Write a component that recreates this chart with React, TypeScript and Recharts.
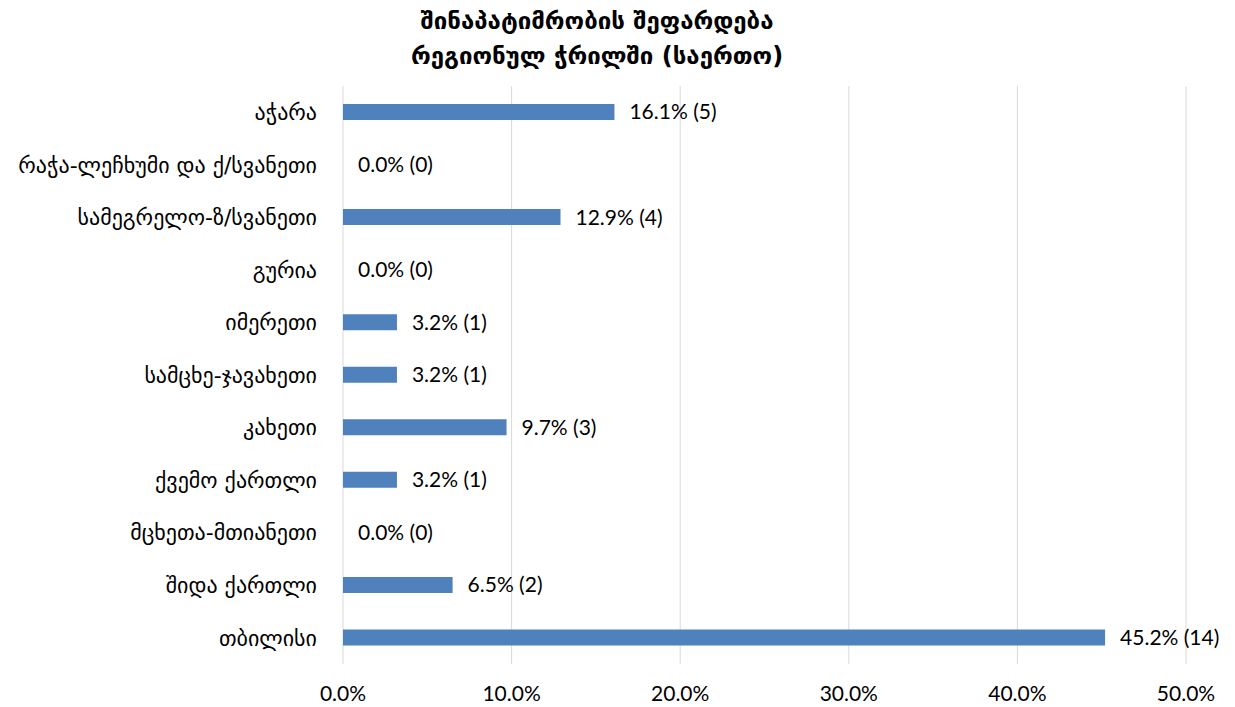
import React from "react";
import { BarChart, Bar, XAxis, YAxis, CartesianGrid, LabelList } from "recharts";

const regions = [
  "აჭარა",
  "რაჭა-ლეჩხუმი და ქ/სვანეთი",
  "სამეგრელო-ზ/სვანეთი",
  "გურია",
  "იმერეთი",
  "სამცხე-ჯავახეთი",
  "კახეთი",
  "ქვემო ქართლი",
  "მცხეთა-მთიანეთი",
  "შიდა ქართლი",
  "თბილისი",
];
const shares = [16.1, 0, 12.9, 0, 3.2, 3.2, 9.7, 3.2, 0, 6.5, 45.2];
const counts = [5, 0, 4, 0, 1, 1, 3, 1, 0, 2, 14];
const xTicks = [0, 10, 20, 30, 40, 50];

const titleLines = ["შინაპატიმრობის შეფარდება", "რეგიონულ ჭრილში (საერთო)"];

const data = regions.map((name, i) => ({
  name,
  pct: shares[i],
  label: `${shares[i].toFixed(1)}% (${counts[i]})`,
}));

const W = 1235;
const H = 707;

export default function App() {
  return (
    <div style={{ position: "absolute", left: 0, top: 0, width: W, height: H, background: "#fff" }}>
      <div
        style={{
          position: "absolute",
          left: 0,
          top: 4,
          width: 1194,
          textAlign: "center",
          fontFamily: "'DejaVu Sans', sans-serif",
          fontWeight: "bold",
          fontSize: 24,
          lineHeight: "35px",
          color: "#000",
        }}
      >
        {titleLines.map((t) => (
          <div key={t}>{t}</div>
        ))}
      </div>
      <BarChart
        width={W}
        height={H}
        data={data}
        layout="vertical"
        margin={{ top: 86, right: 49, left: 0, bottom: 0 }}
        barCategoryGap={0}
      >
        <CartesianGrid horizontal={false} stroke="#d9d9d9" />
        <XAxis
          type="number"
          domain={[0, 50]}
          ticks={xTicks}
          tickFormatter={(v: number) => `${v.toFixed(1)}%`}
          axisLine={false}
          tickLine={false}
          height={43}
          tickMargin={16}
          tick={{ fill: "#000", fontSize: 21, fontFamily: "Lato, sans-serif" }}
          interval={0}
        />
        <YAxis
          type="category"
          dataKey="name"
          width={343}
          axisLine={false}
          tickLine={false}
          tickMargin={20}
          interval={0}
          tick={{ fill: "#000", fontSize: 22, fontFamily: "'DejaVu Sans', sans-serif" }}
        />
        <Bar dataKey="pct" fill="#4f81bd" barSize={16} minPointSize={0.01} isAnimationActive={false}>
          <LabelList
            dataKey="label"
            position="right"
            offset={15}
            fill="#000"
            fontSize={21}
            fontFamily="Lato, sans-serif"
          />
        </Bar>
      </BarChart>
    </div>
  );
}
